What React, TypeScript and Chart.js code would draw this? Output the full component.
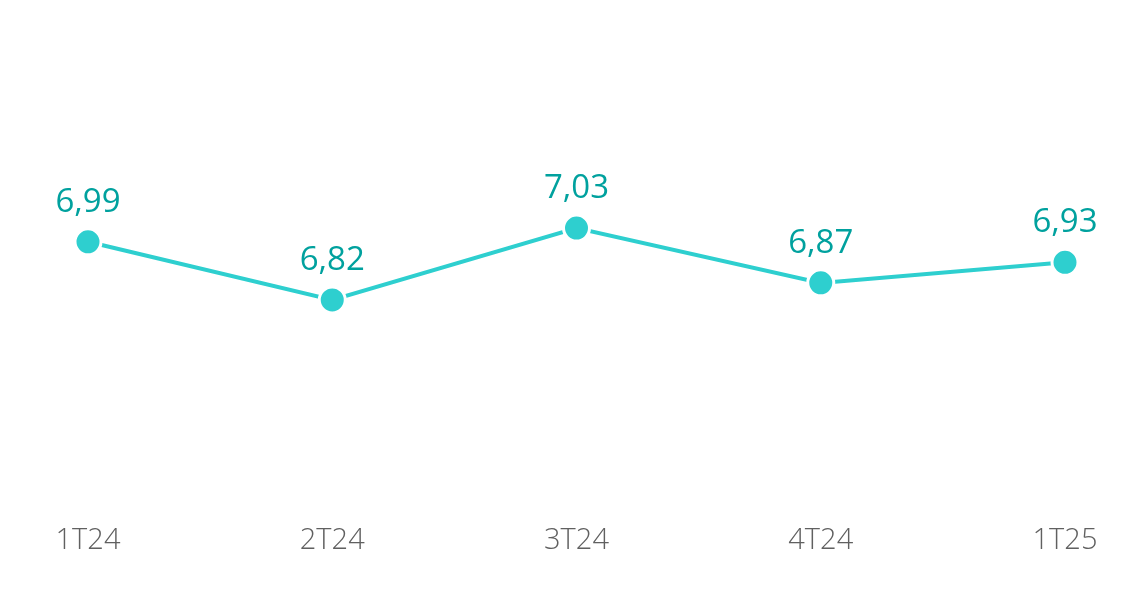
import React, { useEffect, useRef } from "react";
import { Chart, registerables } from "chart.js";

Chart.register(...registerables);

const categories = ["1T24", "2T24", "3T24", "4T24", "1T25"];
const values = [6.99, 6.82, 7.03, 6.87, 6.93];
const valueLabels = ["6,99", "6,82", "7,03", "6,87", "6,93"];

const LINE = "#2ECFCF";
const LABEL = "#00A19E";

const labelPlugin = {
  id: "valueLabels",
  afterDatasetsDraw(chart: any) {
    const ctx = chart.ctx;
    const meta = chart.getDatasetMeta(0);
    ctx.save();
    ctx.font = "400 33px 'Open Sans'";
    ctx.fillStyle = LABEL;
    ctx.textAlign = "center";
    ctx.textBaseline = "alphabetic";
    meta.data.forEach((pt: any, i: number) => {
      ctx.fillText(valueLabels[i], pt.x, pt.y - 30);
    });
    ctx.restore();
  },
};

export default function App() {
  const ref = useRef<HTMLCanvasElement>(null);
  useEffect(() => {
    if (!ref.current) return;
    const chart = new Chart(ref.current, {
      type: "line",
      data: {
        labels: categories,
        datasets: [
          {
            data: values,
            borderColor: LINE,
            borderWidth: 4,
            backgroundColor: LINE,
            pointBackgroundColor: LINE,
            pointBorderColor: "#ffffff",
            pointBorderWidth: 3,
            pointRadius: 13,
            tension: 0,
          },
        ],
      },
      options: {
        responsive: false,
        animation: false,
        layout: { padding: { left: 88, right: 82, top: 33, bottom: 26 } },
        plugins: { legend: { display: false }, tooltip: { enabled: false } },
        scales: {
          x: {
            offset: false,
            grid: { display: false, drawTicks: false },
            border: { display: false },
            ticks: {
              color: "#606060",
              padding: 11,
              font: { family: "'Open Sans'", size: 29, weight: 300 },
              maxRotation: 0,
              autoSkip: false,
            },
          },
          y: {
            display: false,
            min: 6.2,
            max: 7.6,
          },
        },
      },
      plugins: [labelPlugin],
    });
    return () => chart.destroy();
  }, []);
  return (
    <div style={{ position: "absolute", left: 0, top: 0, width: 1147, height: 595, background: "#fff" }}>
      <canvas ref={ref} width={1147} height={595} />
    </div>
  );
}
